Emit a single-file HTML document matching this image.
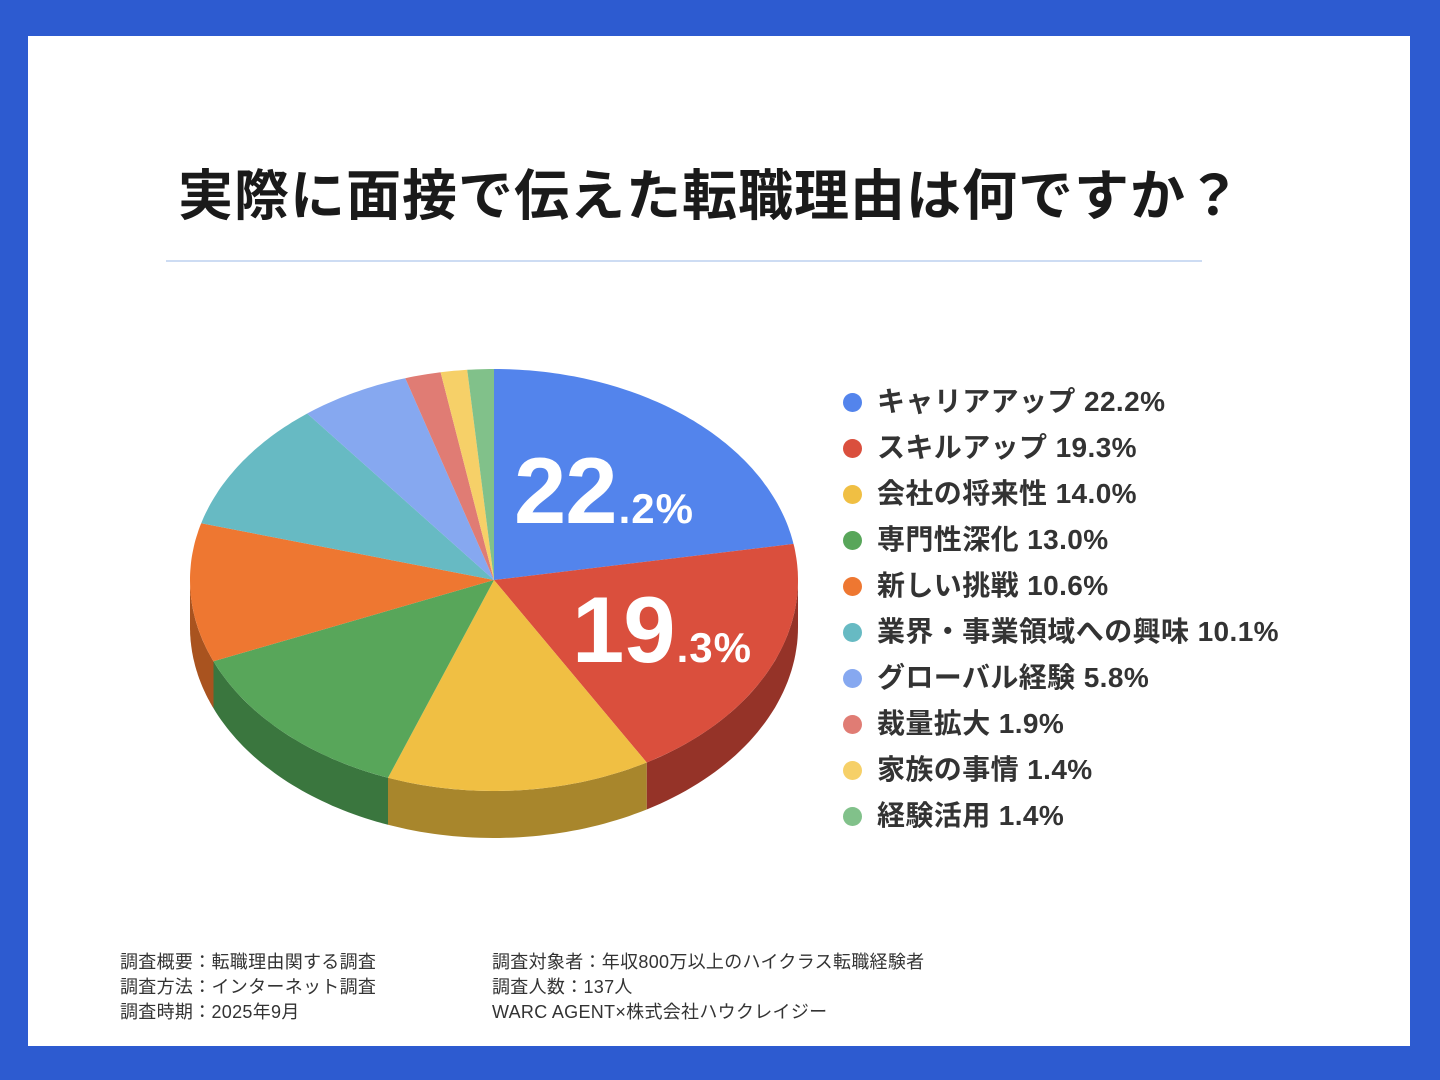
<!DOCTYPE html>
<html><head><meta charset="utf-8">
<style>
html,body{margin:0;padding:0;}
body{width:1440px;height:1080px;background:#2D5BD0;position:relative;overflow:hidden;font-family:"Liberation Sans","Noto Sans CJK JP",sans-serif;}
#card{position:absolute;left:28px;top:36px;width:1382px;height:1010px;background:#fff;}
#title{position:absolute;left:0;width:1420px;top:151px;text-align:center;font-size:55px;font-weight:bold;color:#1a1a1a;letter-spacing:1px;}
#rule{position:absolute;left:166px;top:260px;width:1036px;height:2px;background:#cddcf3;}
.leg{position:absolute;left:843px;font-size:28px;font-weight:bold;color:#333;white-space:nowrap;letter-spacing:0.4px;}
.leg i{display:inline-block;width:19px;height:19px;border-radius:50%;margin-right:15px;vertical-align:-1px;}
.ft{position:absolute;font-size:18px;color:#333;line-height:25px;white-space:nowrap;letter-spacing:0.3px;}
</style></head><body>
<div id="card"></div>
<div id="title">実際に面接で伝えた転職理由は何ですか？</div>
<div id="rule"></div>
<svg id="pie" width="1440" height="1080" style="position:absolute;left:0;top:0"></svg>
<div id="legend"></div>
<div class="ft" style="left:120px;top:950px">調査概要：転職理由関する調査<br>調査方法：インターネット調査<br>調査時期：2025年9月</div>
<div class="ft" style="left:492px;top:950px">調査対象者：年収800万以上のハイクラス転職経験者<br>調査人数：137人<br>WARC AGENT×株式会社ハウクレイジー</div>
<script>
var data=[
["キャリアアップ",22.2,"#5384EC","#3c64b8"],
["スキルアップ",19.3,"#DA4F3D","#953328"],
["会社の将来性",14.0,"#F0BF43","#a8862c"],
["専門性深化",13.0,"#58A65A","#3a763e"],
["新しい挑戦",10.6,"#EE7731","#a9531f"],
["業界・事業領域への興味",10.1,"#67BAC3","#468890"],
["グローバル経験",5.8,"#86A8F0","#5e77aa"],
["裁量拡大",1.9,"#E07C74","#9d5650"],
["家族の事情",1.4,"#F6D068","#ad9248"],
["経験活用",1.4,"#81C18A","#5a8961"]];
var cx=494,cy=580,rx=304,ry=211,d=47;
var tot=0;data.forEach(function(x){tot+=x[1];});
function P(t,dy){return [cx+rx*Math.sin(t),cy-ry*Math.cos(t)+(dy||0)];}
var svg='',tops='',a=0;
data.forEach(function(s){
 var b=a+s[1]/tot*2*Math.PI;
 var s0=Math.max(a,Math.PI/2),s1=Math.min(b,1.5*Math.PI);
 if(s1>s0){
  var pts=[],n=40,i;
  for(i=0;i<=n;i++){pts.push(P(s0+(s1-s0)*i/n));}
  for(i=n;i>=0;i--){pts.push(P(s0+(s1-s0)*i/n,d));}
  svg+='<polygon fill="'+s[3]+'" points="'+pts.map(function(p){return p[0].toFixed(1)+','+p[1].toFixed(1)}).join(' ')+'"/>';
 }
 var pts2=[[cx,cy]],n2=Math.max(4,Math.ceil((b-a)*60));
 for(var j=0;j<=n2;j++)pts2.push(P(a+(b-a)*j/n2));
 tops+='<polygon fill="'+s[2]+'" points="'+pts2.map(function(p){return p[0].toFixed(1)+','+p[1].toFixed(1)}).join(' ')+'"/>';
 a=b;
});
svg+=tops;
svg+='<text x="514" y="523" fill="#fff" font-family="Liberation Sans, sans-serif" font-weight="bold" font-size="94" letter-spacing="-1">22<tspan font-size="42" dx="2" letter-spacing="1">.2%</tspan></text>';
svg+='<text x="572" y="662" fill="#fff" font-family="Liberation Sans, sans-serif" font-weight="bold" font-size="94" letter-spacing="-1">19<tspan font-size="42" dx="2" letter-spacing="1">.3%</tspan></text>';
document.getElementById('pie').innerHTML=svg;
var h='';
data.forEach(function(s,i){h+='<div class="leg" style="top:'+(380+i*46)+'px"><i style="background:'+s[2]+'"></i>'+s[0]+' '+s[1].toFixed(1)+'%</div>';});
document.getElementById('legend').innerHTML=h;
</script>
</body></html>
